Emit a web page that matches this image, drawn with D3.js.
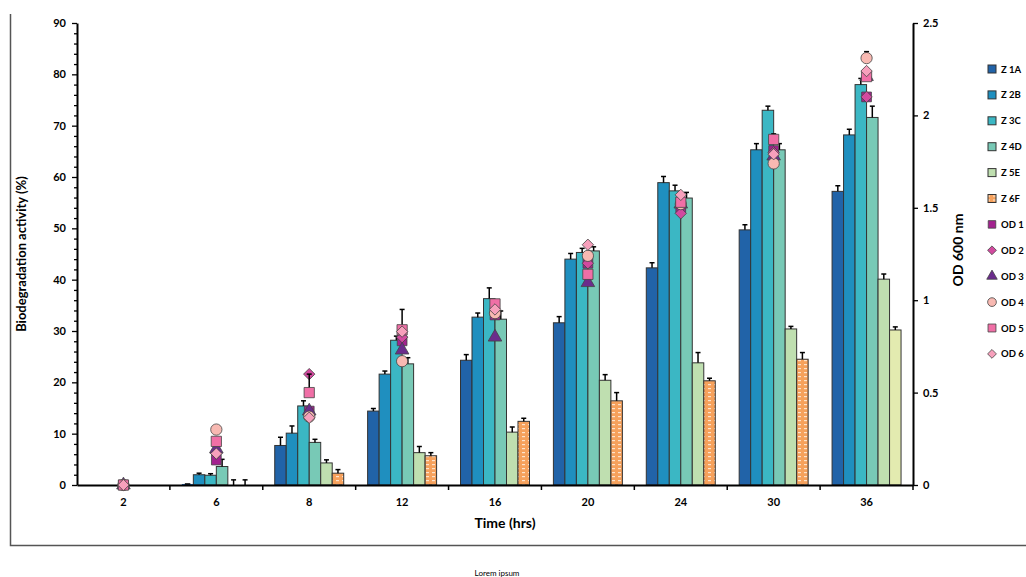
<!DOCTYPE html>
<html>
<head>
<meta charset="utf-8">
<script src="https://cdn.jsdelivr.net/npm/d3@7"></script>
<style>
    body { margin: 0; background: #fff; }
    text { font-family: Lato, 'Open Sans', sans-serif; font-weight: bold; fill: #000; }
</style>
</head>
<body>
<div id="chart-area"></div>
<script>
/** Data **/
const categories = ['2', '6', '8', '12', '16', '20', '24', '30', '36'];

const barSeries = ['Z 1A', 'Z 2B', 'Z 3C', 'Z 4D', 'Z 5E', 'Z 6F'];
const z1A = [0, 0.2, 7.7, 14.4, 24.3, 31.6, 42.3, 49.7, 57.2];
const z2B = [0, 2.0, 10.1, 21.6, 32.7, 44.0, 58.9, 65.3, 68.2];
const z3C = [0, 1.9, 15.4, 28.2, 36.3, 45.3, 57.3, 73.0, 78.0];
const z4D = [0, 3.6, 8.3, 23.6, 32.3, 45.6, 55.9, 65.3, 71.6];
const z5E = [0, 0, 4.3, 6.3, 10.3, 20.4, 23.8, 30.4, 40.1];
const z6F = [0, 0, 2.3, 5.7, 12.4, 16.4, 20.3, 24.5, 30.2];

const e1A = [0, 0, 1.6, 0.5, 1.1, 1.2, 1.0, 1.0, 1.1];
const e2B = [0, 0.3, 1.4, 0.6, 0.8, 1.1, 1.2, 1.2, 1.1];
const e3C = [0, 0.3, 1.0, 0.8, 2.1, 0.8, 1.1, 0.8, 1.2];
const e4D = [0, 1.4, 0.6, 1.2, 1.6, 0.8, 1.1, 1.2, 2.2];
const e5E = [0, 1.0, 0.6, 1.2, 1.0, 1.1, 2.0, 0.5, 1.0];
const e6F = [0, 1.0, 0.7, 0.6, 0.6, 1.6, 0.5, 1.3, 0.6];

const odSeries = ['OD 1', 'OD 2', 'OD 3', 'OD 4', 'OD 5', 'OD 6'];
const od1 = [0, 0.135, 0.40, 0.78, 0.92, 1.20, 1.50, 1.81, 2.10];
const od2 = [0, 0.17, 0.60, 0.80, 0.93, 1.20, 1.47, 1.80, 2.10];
const od3 = [0, 0.195, 0.40, 0.73, 0.80, 1.095, 1.52, 1.78, 2.21];
const od4 = [0, 0.30, 0.37, 0.67, 0.93, 1.24, 1.52, 1.74, 2.31];
const od5 = [0, 0.236, 0.50, 0.84, 0.98, 1.14, 1.53, 1.87, 2.21];
const od6 = [0, 0.17, 0.364, 0.83, 0.95, 1.30, 1.57, 1.79, 2.24];

const od4Err = [0, 0, 0, 0, 0, 0, 0, 0, 0.035];
const od5Err = [0, 0, 0.1, 0.11, 0, 0, 0.03, 0.03, 0];

const leftTicks = [0, 10, 20, 30, 40, 50, 60, 70, 80, 90];
const rightTicks = [0, 0.5, 1, 1.5, 2, 2.5];


/** Styles **/
const barColors = ['#2163a8', '#1f8fbf', '#3bb7c4', '#78c9b6', '#bfdfb0', 'url(#hatch6F)'];
const lastBarColor = '#e3ebb0';   // 36 h, Z 6F drawn plain

// square turned 45 degrees, as wide as it is tall
const symbolRhomb = {
    draw(ctx, size) {
        const r = Math.sqrt(size) * 0.68;
        ctx.moveTo(0, -r); ctx.lineTo(r, 0); ctx.lineTo(0, r); ctx.lineTo(-r, 0);
        ctx.closePath();
    }
};

const odStyle = [
    { shape: d3.symbolSquare,   size: 95,  fill: '#a3228f' },
    { shape: symbolRhomb,       size: 70,  fill: '#d24a9f' },
    { shape: d3.symbolTriangle, size: 80,  fill: '#6b2c8c' },
    { shape: d3.symbolCircle,   size: 100, fill: '#f8b9b2' },
    { shape: d3.symbolSquare,   size: 105, fill: '#f06fa6' },
    { shape: symbolRhomb,       size: 70,  fill: '#f7a0bc' }
];

const barValues = [z1A, z2B, z3C, z4D, z5E, z6F];
const barErrors = [e1A, e2B, e3C, e4D, e5E, e6F];
const odValues = [od1, od2, od3, od4, od5, od6];
const odErrors = [null, null, null, od4Err, od5Err, null];


/** SVG **/
const margin = { left: 77, right: 113, top: 23, bottom: 92 };
const W = 1026, H = 577;
const width = W - margin.left - margin.right;
const height = H - margin.top - margin.bottom;

const svg = d3.select('#chart-area').append('svg')
    .attr('width', W).attr('height', H);

const defs = svg.append('defs');
const pat = defs.append('pattern')
    .attr('id', 'hatch6F')
    .attr('patternUnits', 'userSpaceOnUse')
    .attr('width', 6).attr('height', 4);
pat.append('rect').attr('width', 6).attr('height', 4).attr('fill', '#f6a15c');
pat.append('rect').attr('x', 1).attr('y', 1).attr('width', 3).attr('height', 1.2)
    .attr('fill', '#fde3cc');

// outer frame (left + bottom only)
svg.append('path')
    .attr('d', `M10.5,14 V545.5 H${W}`)
    .attr('fill', 'none').attr('stroke', '#555').attr('stroke-width', 1.5);

svg.append('text')
    .attr('x', 497).attr('y', 576)
    .attr('text-anchor', 'middle')
    .attr('font-size', '8px')
    .style('font-weight', 'normal')
    .text('Lorem ipsum');

const g = svg.append('g')
    .attr('transform', `translate(${margin.left},${margin.top})`);


/** Scales **/
const x0 = d3.scaleBand().domain(categories).range([0, width]).padding(0);
const x1 = d3.scaleBand().domain(barSeries).range([0, x0.bandwidth()])
    .paddingInner(0).paddingOuter(1.04);
const y = d3.scaleLinear().domain([0, 90]).range([height, 0]);
const y2 = d3.scaleLinear().domain([0, 2.5]).range([height, 0]);


/** Bars **/
barSeries.forEach((s, si) => {
    const rows = categories.map((c, ci) => ({
        c, v: barValues[si][ci], e: barErrors[si][ci], ci
    }));
    const sg = g.append('g');

    sg.selectAll('rect').data(rows).enter().append('rect')
        .attr('x', d => x0(d.c) + x1(s))
        .attr('y', d => y(d.v))
        .attr('width', x1.bandwidth())
        .attr('height', d => height - y(d.v))
        .attr('fill', d => (si === 5 && d.c === '36') ? lastBarColor : barColors[si])
        .attr('stroke', d => d.v > 0.5 ? '#333' : 'none')
        .attr('stroke-width', 1);

    // error bars, upper half only
    const eb = sg.selectAll('g.err').data(rows.filter(d => d.e > 0)).enter().append('g');
    eb.append('line')
        .attr('x1', d => x0(d.c) + x1(s) + x1.bandwidth() / 2)
        .attr('x2', d => x0(d.c) + x1(s) + x1.bandwidth() / 2)
        .attr('y1', d => y(d.v)).attr('y2', d => y(d.v + d.e))
        .attr('stroke', '#000').attr('stroke-width', 1.5);
    eb.append('line')
        .attr('x1', d => x0(d.c) + x1(s) + x1.bandwidth() / 2 - 2.5)
        .attr('x2', d => x0(d.c) + x1(s) + x1.bandwidth() / 2 + 2.5)
        .attr('y1', d => y(d.v + d.e)).attr('y2', d => y(d.v + d.e))
        .attr('stroke', '#000').attr('stroke-width', 1.5);
});

// tiny Z 1A stub at 6 h
g.append('line')
    .attr('x1', x0('6') + x1('Z 1A') + 3).attr('x2', x0('6') + x1('Z 1A') + x1.bandwidth() - 3)
    .attr('y1', y(z1A[1])).attr('y2', y(z1A[1]))
    .attr('stroke', '#000').attr('stroke-width', 1.5);


/** Axes **/
const yAxis = g.append('g')
    .call(d3.axisLeft(y).tickValues(leftTicks).tickSize(5).tickSizeOuter(0).tickPadding(6));
const yMinor = g.append('g')
    .call(d3.axisLeft(y)
        .tickValues(d3.range(0, 90, 2).filter(v => v % 10 !== 0))
        .tickSize(3).tickSizeOuter(0).tickFormat(''));
yMinor.select('.domain').remove();

const y2Axis = g.append('g')
    .attr('transform', `translate(${width},0)`)
    .call(d3.axisRight(y2).tickValues(rightTicks).tickSize(5).tickSizeOuter(0)
        .tickPadding(5).tickFormat(d3.format('~g')));

const xAxis = g.append('g')
    .attr('transform', `translate(0,${height})`)
    .call(d3.axisBottom(x0).tickSize(0).tickPadding(13));

// boundary ticks between the time groups
xAxis.selectAll('line.bound')
    .data(categories.slice(1).concat(['end']))
    .enter().append('line')
    .attr('class', 'bound')
    .attr('x1', d => d === 'end' ? width : x0(d))
    .attr('x2', d => d === 'end' ? width : x0(d))
    .attr('y1', 0).attr('y2', 5)
    .attr('stroke', '#000').attr('stroke-width', 1.5);

[yAxis, yMinor, y2Axis, xAxis].forEach(a => {
    a.selectAll('.domain').attr('stroke', '#000').attr('stroke-width', 2);
    a.selectAll('.tick line').attr('stroke', '#000').attr('stroke-width', 1.3);
    a.selectAll('text').attr('font-size', '11px')
        .style('font-family', "Lato, 'Open Sans', sans-serif").style('font-weight', 'bold');
});


/** OD markers **/
odSeries.forEach((s, si) => {
    const st = odStyle[si];
    const rows = categories.map((c, ci) => ({
        c, v: odValues[si][ci], e: odErrors[si] ? odErrors[si][ci] : 0
    }));
    const mg = g.append('g');
    const cx = d => x0(d.c) + x0.bandwidth() / 2;

    mg.selectAll('line.err').data(rows.filter(d => d.e > 0)).enter().append('line')
        .attr('x1', cx).attr('x2', cx)
        .attr('y1', d => y2(d.v)).attr('y2', d => y2(d.v + d.e))
        .attr('stroke', '#000').attr('stroke-width', 1.5);
    mg.selectAll('line.cap').data(rows.filter(d => d.e > 0)).enter().append('line')
        .attr('x1', d => cx(d) - 2.5).attr('x2', d => cx(d) + 2.5)
        .attr('y1', d => y2(d.v + d.e)).attr('y2', d => y2(d.v + d.e))
        .attr('stroke', '#000').attr('stroke-width', 1.5);

    mg.selectAll('path').data(rows).enter().append('path')
        .attr('d', d3.symbol().type(st.shape).size(st.size))
        .attr('transform', d => `translate(${cx(d)},${y2(d.v)})`)
        .attr('fill', st.fill)
        .attr('stroke', '#444').attr('stroke-width', 0.8);
});


/** Labels **/
g.append('text')
    .attr('transform', 'rotate(-90)')
    .attr('x', -height / 2).attr('y', -51)
    .attr('text-anchor', 'middle')
    .attr('font-size', '13px')
    .text('Biodegradation activity (%)');

g.append('text')
    .attr('x', width / 2 + 10).attr('y', height + 43)
    .attr('text-anchor', 'middle')
    .attr('font-size', '14px')
    .text('Time (hrs)');

g.append('text')
    .attr('transform', 'rotate(-90)')
    .attr('x', -height / 2 + 4).attr('y', width + 50)
    .attr('text-anchor', 'middle')
    .attr('font-size', '14px')
    .text('OD 600 nm');


/** Legend **/
const legendItems = barSeries.map((s, i) => ({ name: s, bar: true, i }))
    .concat(odSeries.map((s, i) => ({ name: s, bar: false, i })));

const legend = svg.append('g').attr('transform', 'translate(992,69)');
const li = legend.selectAll('g').data(legendItems).enter().append('g')
    .attr('transform', (d, i) => `translate(0,${i * 25.9})`);

li.filter(d => d.bar).append('rect')
    .attr('x', -4).attr('y', -4).attr('width', 8).attr('height', 8)
    .attr('fill', d => barColors[d.i])
    .attr('stroke', '#333').attr('stroke-width', 1);

li.filter(d => !d.bar).append('path')
    .attr('d', d => d3.symbol().type(odStyle[d.i].shape).size(odStyle[d.i].size * 0.6)())
    .attr('fill', d => odStyle[d.i].fill)
    .attr('stroke', '#444').attr('stroke-width', 0.8);

li.append('text')
    .attr('x', 9).attr('y', 3.5)
    .attr('font-size', '9.5px')
    .text(d => d.name);
</script>
</body>
</html>
